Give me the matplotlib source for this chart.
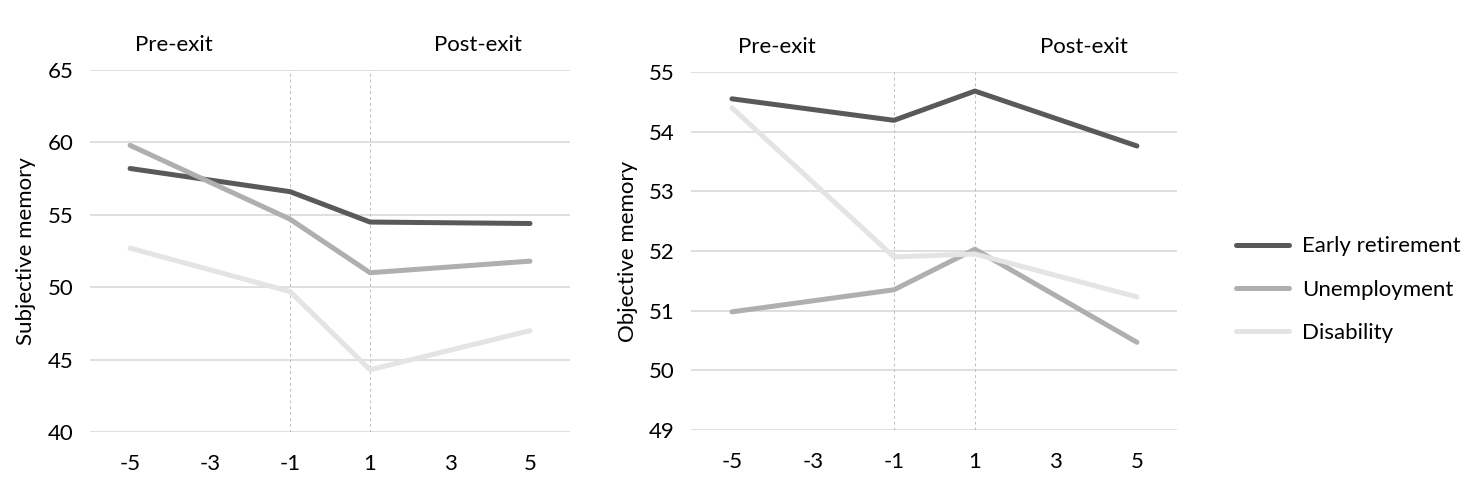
import matplotlib
matplotlib.use("Agg")
import matplotlib.pyplot as plt

plt.rcParams["font.family"] = ["Lato", "DejaVu Sans"]

# Years relative to labour-market exit
years = [-5, -1, 1, 5]
tick_years = [-5, -3, -1, 1, 3, 5]

groups = ["Early retirement", "Unemployment", "Disability"]
colors = ["#595959", "#afafaf", "#e4e4e4"]

# Subjective memory
subj_early = [58.2, 56.6, 54.5, 54.4]
subj_unemp = [59.8, 54.7, 51.0, 51.8]
subj_disab = [52.7, 49.7, 44.3, 47.0]

# Objective memory
obj_early = [54.55, 54.19, 54.68, 53.76]
obj_unemp = [50.98, 51.35, 52.03, 50.47]
obj_disab = [54.4, 51.9, 51.95, 51.23]

fig = plt.figure(figsize=(14.79, 4.83), dpi=100)
ax1 = fig.add_axes([0.0609, 0.1056, 0.3245, 0.7494])
ax2 = fig.add_axes([0.4675, 0.1097, 0.3286, 0.7413])

FS = 16


def style_axis(ax, series, ylim, yticks, ylabel):
    for vals, name, c in zip(series, groups, colors):
        ax.plot(years, vals, color=c, lw=3.6, label=name,
                solid_capstyle="round", solid_joinstyle="round")
    ax.set_xlim(-6, 6)
    ax.set_ylim(*ylim)
    ax.set_xticks(tick_years)
    ax.set_xticklabels([str(t) for t in tick_years])
    ax.set_yticks(yticks)
    ax.grid(axis="y", color="#d9d9d9", lw=1.2)
    ax.set_axisbelow(True)
    for s in ax.spines.values():
        s.set_visible(False)
    ax.tick_params(length=0, labelsize=FS, colors="black")
    ax.tick_params(axis="x", pad=16)
    ax.tick_params(axis="y", pad=12)
    ax.set_ylabel(ylabel, fontsize=FS, labelpad=8)
    # exit boundary markers
    for xv in (-1, 1):
        ax.plot([xv, xv], ylim, color="#bfbfbf", lw=0.7, ls=(0, (3, 3)), zorder=1)
    top = ylim[1] + (ylim[1] - ylim[0]) * 0.07
    ax.text(-3.9, top, "Pre-exit", ha="center", va="center", fontsize=FS,
            clip_on=False)
    ax.text(3.7, top, "Post-exit", ha="center", va="center", fontsize=FS,
            clip_on=False)


style_axis(ax1, [subj_early, subj_unemp, subj_disab], (40, 65),
           [40, 45, 50, 55, 60, 65], "Subjective memory")
style_axis(ax2, [obj_early, obj_unemp, obj_disab], (49, 55),
           [49, 50, 51, 52, 53, 54, 55], "Objective memory")

handles, labels = ax2.get_legend_handles_labels()
fig.legend(handles, labels, loc="center left", bbox_to_anchor=(0.822, 0.40),
           frameon=False, fontsize=FS, handlelength=2.4, labelspacing=1.05,
           handletextpad=0.6)

fig.savefig("out.png", dpi=100)
